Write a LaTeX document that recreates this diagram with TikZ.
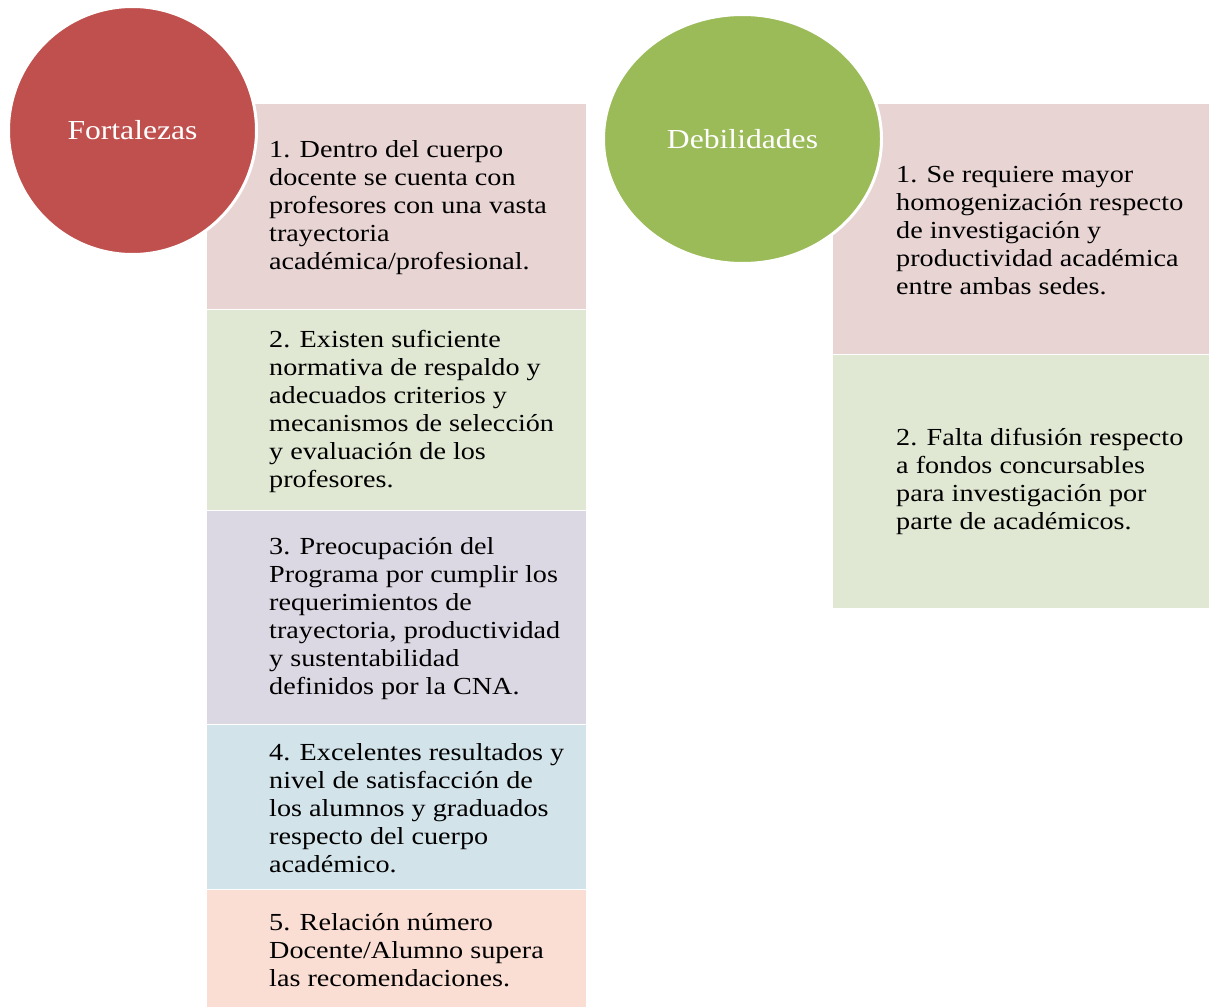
\documentclass[tikz,border=0pt]{standalone}
\usepackage{fontspec}
\usetikzlibrary{shapes.geometric}
\setmainfont[FakeStretch=1.15]{Liberation Serif}
\definecolor{redc}{HTML}{C0504D}
\definecolor{greenc}{HTML}{9BBB59}
\definecolor{pinkbox}{HTML}{E9D4D4}
\definecolor{greenbox}{HTML}{E0E8D3}
\definecolor{purplebox}{HTML}{DCD8E3}
\definecolor{bluebox}{HTML}{D3E3EA}
\definecolor{orangebox}{HTML}{FADED4}
\begin{document}
\begin{tikzpicture}[x=1pt,y=-1pt,
  box/.style={anchor=north west, inner sep=0pt, outer sep=0pt, draw=white, line width=0.4pt},
  txt/.style={anchor=west, inner sep=0pt, align=left, text=black,
    font=\fontsize{24.5}{28}\selectfont},
  blob/.style={ellipse, inner sep=0pt, draw=white, line width=3pt},
  blobtxt/.style={text=white, font=\fontsize{27.5}{30}\selectfont, inner sep=0pt}]
\useasboundingbox (0,0) rectangle (1209,1006);
\fill[white] (0,0) rectangle (1209,1006);
% left column
\node[box, fill=pinkbox, minimum width=380pt, minimum height=206pt] (b1) at (206,103) {};
\node[box, fill=greenbox, minimum width=380pt, minimum height=201pt] (b2) at (206,309) {};
\node[box, fill=purplebox, minimum width=380pt, minimum height=214pt] (b3) at (206,510) {};
\node[box, fill=bluebox, minimum width=380pt, minimum height=165pt] (b4) at (206,724) {};
\node[box, fill=orangebox, minimum width=380pt, minimum height=118pt] (b5) at (206,889) {};
% right column
\node[box, fill=pinkbox, minimum width=378pt, minimum height=251pt] (d1) at (832,103) {};
\node[box, fill=greenbox, minimum width=378pt, minimum height=254pt] (d2) at (832,354) {};
% texts
\node[txt] (t1) at ([xshift=63pt,yshift=-2pt]b1.west) {1. Dentro del cuerpo\\docente se cuenta con\\profesores con una vasta\\trayectoria\\académica/profesional.};
\node[txt] (t2) at ([xshift=63pt,yshift=-2pt]b2.west) {2. Existen suficiente\\normativa de respaldo y\\adecuados criterios y\\mecanismos de selección\\y evaluación de los\\profesores.};
\node[txt] (t3) at ([xshift=63pt,yshift=-2pt]b3.west) {3. Preocupación del\\Programa por cumplir los\\requerimientos de\\trayectoria, productividad\\y sustentabilidad\\definidos por la CNA.};
\node[txt] (t4) at ([xshift=63pt,yshift=-2pt]b4.west) {4. Excelentes resultados y\\nivel de satisfacción de\\los alumnos y graduados\\respecto del cuerpo\\académico.};
\node[txt] (t5) at ([xshift=63pt,yshift=-2pt]b5.west) {5. Relación número\\Docente/Alumno supera\\las recomendaciones.};
\node[txt] (s1) at ([xshift=64pt,yshift=-2pt]d1.west) {1. Se requiere mayor\\homogenización respecto\\de investigación y\\productividad académica\\entre ambas sedes.};
\node[txt] (s2) at ([xshift=64pt,yshift=0pt]d2.west) {2. Falta difusión respecto\\a fondos concursables\\para investigación por\\parte de académicos.};
% circles
\node[blob, fill=redc, minimum width=248pt, minimum height=248pt] (c1) at (132.5,130.5) {};
\node[blob, fill=greenc, minimum width=278pt, minimum height=249pt] (c2) at (742.5,139) {};
\node[blobtxt] (l1) at (c1.center) {Fortalezas};
\node[blobtxt] (l2) at (c2.center) {Debilidades};
\end{tikzpicture}
\end{document}
